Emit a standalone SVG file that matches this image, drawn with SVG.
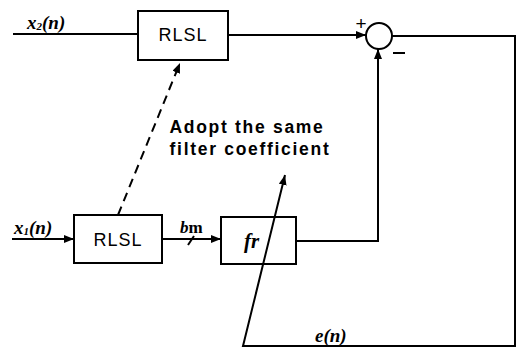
<svg xmlns="http://www.w3.org/2000/svg" width="519" height="358" viewBox="0 0 519 358">
<style>
.box{fill:none;stroke:#000;stroke-width:2}
.ln{fill:none;stroke:#000;stroke-width:2}
.lbl{font-family:"Liberation Sans",Arial,sans-serif;font-size:18px;letter-spacing:1px;fill:#000}
.math{font-family:"Liberation Serif","Times New Roman",serif;font-style:italic;font-weight:bold;fill:#000}
.note{font-family:"Liberation Sans",Arial,sans-serif;font-size:17.5px;font-weight:bold;letter-spacing:1.7px;fill:#000}
</style>
<defs>
<marker id="ah" viewBox="0 0 10 8" refX="10" refY="4" markerWidth="10" markerHeight="8" markerUnits="userSpaceOnUse" orient="auto">
<path d="M0,0 L10,4 L0,8 Z" fill="#000"/>
</marker>
</defs>
<rect width="519" height="358" fill="#fff"/>
<g id="connectors">
<line class="ln" x1="13" y1="34" x2="138" y2="34"/>
<line class="ln" x1="228" y1="35" x2="366" y2="35" marker-end="url(#ah)"/>
<polyline class="ln" points="392,36 515,36 515,346 243,346 285,175" marker-end="url(#ah)"/>
<line class="ln" x1="12" y1="239" x2="74" y2="239" marker-end="url(#ah)"/>
<line class="ln" x1="162" y1="239" x2="221" y2="239" marker-end="url(#ah)"/>
<line class="ln" x1="188" y1="245" x2="194" y2="236" stroke-width="1.5"/>
<polyline class="ln" points="296,241 378,241 378,49" marker-end="url(#ah)"/>
<line class="ln" x1="118" y1="215" x2="180" y2="63" stroke-dasharray="9,6" marker-end="url(#ah)"/>
</g>
<g id="rlsl_top">
<rect class="box" x="138" y="11" width="90" height="49"/>
<text class="lbl" x="183" y="41" text-anchor="middle">RLSL</text>
</g>
<g id="rlsl_bottom">
<rect class="box" x="74" y="215" width="88" height="48"/>
<text class="lbl" x="118" y="246" text-anchor="middle">RLSL</text>
</g>
<g id="fr">
<rect class="box" x="221" y="217" width="75" height="47"/>
<text class="math" x="244" y="248" font-size="21">fr</text>
</g>
<g id="sum">
<circle cx="379" cy="36" r="13" fill="#fff" stroke="#000" stroke-width="2"/>
<text x="361" y="30" font-family="Liberation Sans,Arial,sans-serif" font-size="19" text-anchor="middle">+</text>
<line x1="393" y1="53" x2="405" y2="53" stroke="#000" stroke-width="2"/>
</g>
<g id="labels">
<text class="math" x="27" y="29" font-size="19">x<tspan font-size="11" dy="1">2</tspan><tspan dy="-1">(n)</tspan></text>
<text class="math" x="14" y="234" font-size="19">x<tspan font-size="11" dy="1">1</tspan><tspan dy="-1">(n)</tspan></text>
<text class="math" x="180" y="233" font-size="17">b<tspan font-style="normal">m</tspan></text>
<text class="math" x="315" y="342" font-size="19">e(n)</text>
<text class="note" x="247" y="133" text-anchor="middle">Adopt the same</text>
<text class="note" x="250" y="155" text-anchor="middle">filter coefficient</text>
</g>
</svg>
